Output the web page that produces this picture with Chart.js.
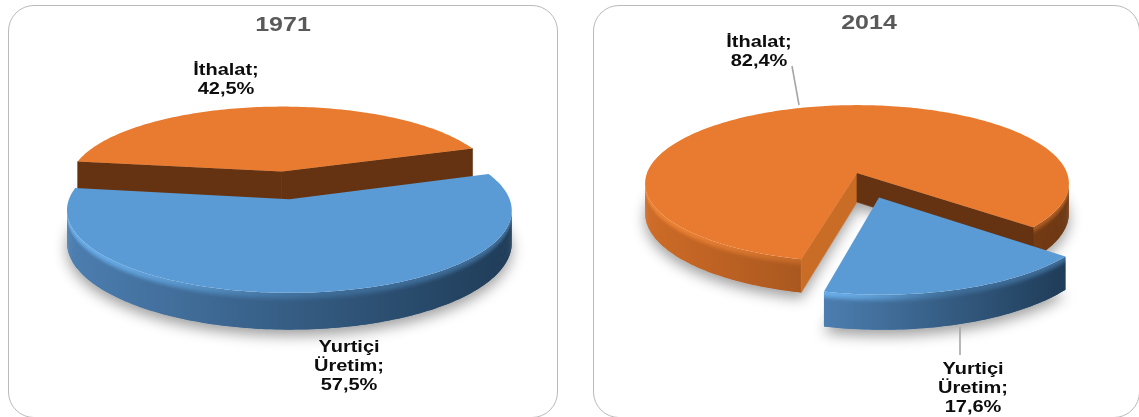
<!DOCTYPE html>
<html lang="tr">
<head>
<meta charset="utf-8">
<title>Yurtiçi Üretim ve İthalat</title>
<script src="https://cdn.jsdelivr.net/npm/chart.js@4"></script>
<style>
  html, body { margin: 0; padding: 0; background: #fff; }
  body { width: 1139px; height: 417px; overflow: hidden; position: relative; }
  .panel { position: absolute; top: 5px; height: 413px; box-sizing: border-box;
           border: 1.6px solid #bababa; border-radius: 26px; background: #fff; }
  canvas { position: absolute; top: 0; }
</style>
</head>
<body>
<div class="panel" style="left:8px;width:550px"></div>
<div class="panel" style="left:593px;width:547px"></div>
<canvas id="c1971" width="570" height="417" style="left:0"></canvas>
<canvas id="c2014" width="569" height="417" style="left:570px"></canvas>
<script>
const categories = ['Yurtiçi Üretim', 'İthalat'];
const shares1971 = [57.5, 42.5];
const shares2014 = [17.6, 82.4];

// Surface, rim and cut-face tones for each category, as [r, g, b].
const tones = [
  { top: [91, 155, 213], bright: [104, 172, 232], rimL: [76, 126, 176], rimR: [31, 60, 88],
    faceLit: [70, 120, 170], faceDark: [35, 65, 95] },
  { top: [232, 123, 47], bright: [236, 130, 52], rimL: [206, 107, 39], rimR: [108, 55, 18],
    faceLit: [201, 108, 38], faceDark: [101, 51, 17] }
];

const mix = (a, b, t) => a.map((c, i) => c + (b[i] - c) * t);
const css = c => `rgb(${c.map(Math.round).join(',')})`;
const clamp01 = t => Math.max(0, Math.min(1, t));
const smooth = t => { t = clamp01(t); return t * t * (3 - 2 * t); };
const cross = (a, b, c, d) => (b[0] - a[0]) * (d[1] - c[1]) - (b[1] - a[1]) * (d[0] - c[0]);

function tracePolygon(ctx, pts) {
  ctx.beginPath();
  pts.forEach((p, i) => (i ? ctx.lineTo(p[0], p[1]) : ctx.moveTo(p[0], p[1])));
  ctx.closePath();
}

// Draws the doughnut controller's arcs as a tilted, extruded disc in perspective.
const tiltedPie = {
  id: 'tiltedPie',
  beforeDatasetsDraw(chart, args, opts) {
    const ctx = chart.ctx;
    const { cx, cy, rx, ry, k, depth } = opts;
    const project = (u, v, z) => {
      const f = 1 / (1 - k * v);
      return [cx + rx * u * f, cy + ry * v * f + depth * z * f];
    };
    const slices = chart.getDatasetMeta(0).data.map((arc, index) => {
      const R = arc.outerRadius;
      const mid = (arc.startAngle + arc.endAngle) / 2;
      const e = (arc.options.offset || 0) / R;
      const ox = Math.cos(mid) * e, oy = Math.sin(mid) * e;
      const at = (theta, r, z) => project(ox + r * Math.cos(theta), oy + r * Math.sin(theta), z);
      const n = Math.ceil((arc.endAngle - arc.startAngle) / 0.02);
      const angles = Array.from({ length: n + 1 }, (_, i) => arc.startAngle + (arc.endAngle - arc.startAngle) * i / n);
      return { index, mid, at, angles, start: arc.startAngle, end: arc.endAngle, tone: tones[index] };
    }).sort((a, b) => Math.sin(a.mid) - Math.sin(b.mid));

    // Soft shadow under every slice first, so it never falls on a neighbour.
    ctx.save();
    ctx.shadowColor = 'rgba(0,0,0,0.38)';
    ctx.shadowBlur = 14;
    ctx.shadowOffsetY = 6;
    ctx.fillStyle = '#fff';
    slices.forEach(s => {
      tracePolygon(ctx, [s.at(0, 0, 1), ...s.angles.map(a => s.at(a, 1, 1))]);
      ctx.fill();
    });
    ctx.restore();

    slices.forEach(s => {
      const { at, angles, tone } = s;
      const xs = angles.map(a => at(a, 1, 0)[0]);
      const xMin = Math.min(...xs), xMax = Math.max(...xs);
      const down = [0, depth], origin = [0, 0];

      // Contiguous runs of rim segments that face the viewer.
      const runs = [];
      let run = null;
      for (let i = 0; i < angles.length - 1; i++) {
        const a = at(angles[i], 1, 0), b = at(angles[i + 1], 1, 0);
        const out = at((angles[i] + angles[i + 1]) / 2, 1.05, 0);
        if (cross(a, b, origin, down) * cross(a, b, a, out) > 0) {
          if (!run) { run = [i, i + 1]; runs.push(run); } else run[1] = i + 1;
        } else run = null;
      }

      // Outer rim: shaded left to right, with a narrow bevel under the top edge.
      const bands = 30, stops = 24;
      for (let j = bands - 1; j >= 0; j--) {
        const z0 = j / bands, z1 = Math.min(1, (j + 2) / bands);
        const s01 = smooth((j + 0.5) / bands / 0.24);
        const grad = ctx.createLinearGradient(xMin, 0, xMax, 0);
        for (let g = 0; g <= stops; g++) {
          const t = g / stops;
          const rim = mix(tone.rimL, tone.rimR, t);
          const edge = mix(tone.bright, mix(tone.top, tone.rimR, 0.5), smooth(t * 1.6));
          grad.addColorStop(t, css(mix(edge, rim, s01)));
        }
        ctx.fillStyle = grad;
        runs.forEach(([from, to]) => {
          const span = angles.slice(from, to + 1);
          tracePolygon(ctx, [...span.map(a => at(a, 1, z0)), ...span.reverse().map(a => at(a, 1, z1))]);
          ctx.fill();
        });
      }

      // Cut faces, only where they turn towards the viewer.
      const centre = at(0, 0, 0), inner = at(s.mid, 0.6, 0);
      [[s.start, s.start - Math.PI / 2], [s.end, s.end + Math.PI / 2]].forEach(([theta, normal]) => {
        const rimPt = at(theta, 1, 0);
        if (cross(centre, rimPt, origin, down) * cross(centre, rimPt, centre, inner) >= 0) return;
        const col = css(mix(tone.faceLit, tone.faceDark, clamp01((Math.sin(normal) - 0.25) / 0.45)));
        ctx.fillStyle = col;
        ctx.strokeStyle = col;
        ctx.lineWidth = 0.7;
        tracePolygon(ctx, [centre, rimPt, at(theta, 1, 1), at(0, 0, 1)]);
        ctx.fill();
        ctx.stroke();
      });

      // Top surface.
      ctx.fillStyle = css(tone.top);
      tracePolygon(ctx, [centre, ...angles.map(a => at(a, 1, 0))]);
      ctx.fill();
    });
    return false;
  },
  afterDraw(chart, args, opts) {
    const ctx = chart.ctx;
    const stretched = (text, x, y, font, color) => {
      ctx.save();
      ctx.translate(x, y);
      ctx.scale(opts.textStretch, 1);
      ctx.font = font;
      ctx.fillStyle = color;
      ctx.textAlign = 'center';
      ctx.textBaseline = 'middle';
      ctx.fillText(text, 0, 0);
      ctx.restore();
    };
    (opts.leaders || []).forEach(([x0, y0, x1, y1]) => {
      ctx.strokeStyle = '#a6a6a6';
      ctx.lineWidth = 1.6;
      ctx.beginPath();
      ctx.moveTo(x0, y0);
      ctx.lineTo(x1, y1);
      ctx.stroke();
    });
    stretched(opts.heading, opts.headingAt[0], opts.headingAt[1], 'bold 20px "Liberation Sans"', '#595959');
    const values = chart.data.datasets[0].data;
    chart.data.labels.forEach((name, i) => {
      const words = name.split(' ');
      words[words.length - 1] += ';';
      const lines = [...words, values[i].toFixed(1).replace('.', ',') + '%'];
      const [x, y] = opts.labelAt[i];
      lines.forEach((line, l) => stretched(line, x, y + l * 18.8, 'bold 16px "Liberation Sans"', '#0d0d0d'));
    });
  }
};

function buildPie(canvasId, shares, rotation, offsets, pieOptions) {
  return new Chart(document.getElementById(canvasId), {
    type: 'pie',
    data: {
      labels: categories,
      datasets: [{
        data: shares,
        backgroundColor: tones.map(t => css(t.top)),
        borderWidth: 0,
        offset: offsets
      }]
    },
    options: {
      responsive: false,
      animation: false,
      events: [],
      rotation,
      radius: 100,
      plugins: { legend: { display: false }, tooltip: { enabled: false }, tiltedPie: pieOptions }
    },
    plugins: [tiltedPie]
  });
}

buildPie('c1971', shares1971, 71, [18, 18], {
  cx: 285.5, cy: 185, rx: 215, ry: 77, k: 0.134, depth: 31, textStretch: 1.25,
  heading: '1971', headingAt: [283, 25],
  labelAt: [[349, 348], [226, 71]],
  leaders: []
});

buildPie('c2014', shares2014, 130, [32, 0], {
  cx: 287, cy: 173, rx: 210, ry: 77, k: 0.134, depth: 29, textStretch: 1.25,
  heading: '2014', headingAt: [299, 23],
  labelAt: [[403, 370], [189, 43]],
  leaders: [[222, 66, 229, 105], [390, 327, 390, 355]]
});
</script>
</body>
</html>
